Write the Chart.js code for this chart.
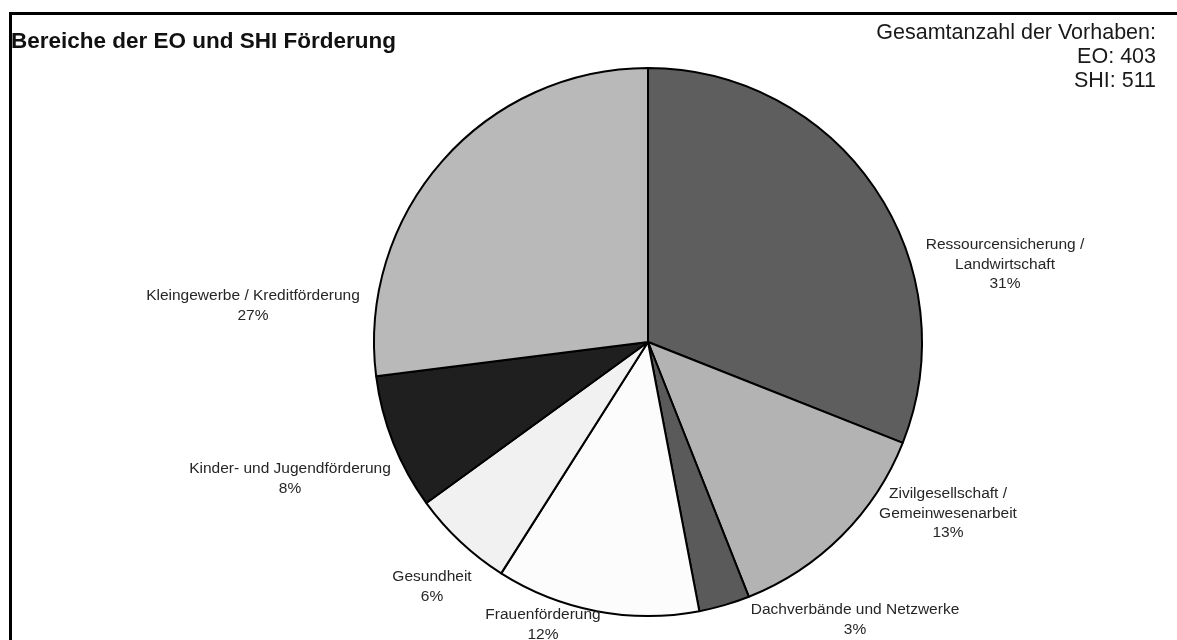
<!DOCTYPE html>
<html>
<head>
<meta charset="utf-8">
<script src="https://cdn.jsdelivr.net/npm/chart.js@4.4.1/dist/chart.umd.min.js"></script>
<style>
  html, body { margin: 0; padding: 0; background: #ffffff; }
  #wrap { position: relative; width: 1177px; height: 640px; }
  canvas { display: block; }
</style>
</head>
<body>
<div id="wrap"><canvas id="c" width="1177" height="640"></canvas></div>
<script>
// ---- data ----
const categories = [
  ["Ressourcensicherung /", "Landwirtschaft"],
  ["Zivilgesellschaft /", "Gemeinwesenarbeit"],
  ["Dachverbände und Netzwerke"],
  ["Frauenförderung"],
  ["Gesundheit"],
  ["Kinder- und Jugendförderung"],
  ["Kleingewerbe / Kreditförderung"]
];
const shares = [31, 13, 3, 12, 6, 8, 27];
const titleText = "Bereiche der EO und SHI Förderung";
const totalsLines = ["Gesamtanzahl der Vorhaben:", "EO: 403", "SHI: 511"];

// ---- styling ----
const sliceColors = ["#5e5e5e", "#b3b3b3", "#5a5a5a", "#fcfcfc", "#f1f1f1", "#1f1f1f", "#b9b9b9"];
const labelAnchors = [
  {x: 1005, y: 245}, {x: 948, y: 494}, {x: 855, y: 610}, {x: 543, y: 615},
  {x: 432, y: 577}, {x: 290, y: 469}, {x: 253, y: 296}
];

const decorPlugin = {
  id: 'decor',
  beforeDraw(chart) {
    const ctx = chart.ctx;
    ctx.save();
    ctx.fillStyle = '#ffffff';
    ctx.fillRect(0, 0, chart.width, chart.height);
    ctx.restore();
  },
  afterDraw(chart) {
    const ctx = chart.ctx;
    ctx.save();
    // frame
    ctx.strokeStyle = '#000';
    ctx.lineWidth = 3;
    ctx.beginPath();
    ctx.moveTo(10.5, chart.height + 5);
    ctx.lineTo(10.5, 13.5);
    ctx.lineTo(chart.width + 5, 13.5);
    ctx.stroke();
    // title
    ctx.fillStyle = '#111';
    ctx.font = 'bold 22.5px "Liberation Sans", Arial, sans-serif';
    ctx.textAlign = 'left';
    ctx.textBaseline = 'alphabetic';
    ctx.fillText(titleText, 11, 48);
    // totals
    ctx.font = '21.5px "Liberation Sans", Arial, sans-serif';
    ctx.textAlign = 'right';
    ctx.fillStyle = '#1a1a1a';
    totalsLines.forEach((t, i) => ctx.fillText(t, 1156, 39 + i * 24));
    // slice labels
    ctx.font = '15.5px "Liberation Sans", Arial, sans-serif';
    ctx.textAlign = 'center';
    ctx.textBaseline = 'middle';
    ctx.fillStyle = '#262626';
    const meta = chart.getDatasetMeta(0);
    meta.data.forEach((arc, i) => {
      const a = labelAnchors[i];
      const lines = categories[i].concat([shares[i] + '%']);
      lines.forEach((ln, j) => ctx.fillText(ln, a.x, a.y + j * 19.5));
    });
    ctx.restore();
  }
};

new Chart(document.getElementById('c'), {
  type: 'pie',
  data: {
    labels: categories.map(c => c.join(' ')),
    datasets: [{
      data: shares,
      backgroundColor: sliceColors,
      borderColor: '#000000',
      borderWidth: 2
    }]
  },
  options: {
    responsive: false,
    animation: false,
    layout: { padding: { left: 373, right: 254, top: 67, bottom: 23 } },
    plugins: {
      legend: { display: false },
      tooltip: { enabled: false },
      title: { display: false }
    }
  },
  plugins: [decorPlugin]
});
</script>
</body>
</html>
